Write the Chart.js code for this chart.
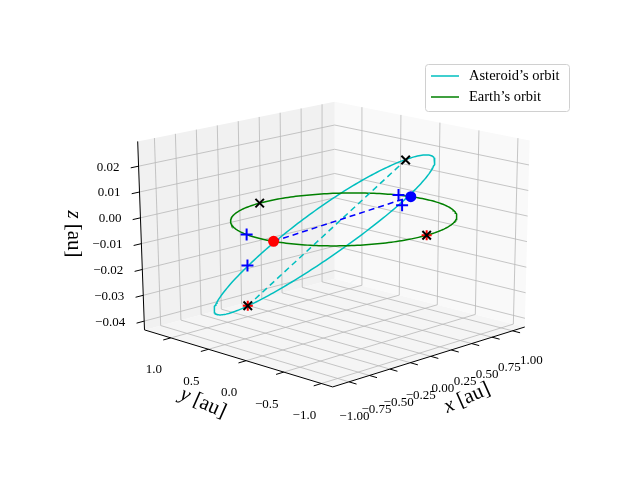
<!DOCTYPE html>
<html>
<head>
<meta charset="utf-8">
<script src="https://cdn.jsdelivr.net/npm/chart.js@4.4.1/dist/chart.umd.min.js"></script>
<style>
  html, body { margin: 0; padding: 0; background: #fff; }
  #wrap { width: 640px; height: 480px; position: relative; }
</style>
</head>
<body>
<div id="wrap"><canvas id="chart"></canvas></div>
<script>
// ---------------------------
// Data (au)
// ---------------------------
const xLim = [-1.2, 1.15];
const yLim = [-1.15, 1.35];
const zLim = [-0.0434, 0.0296];
const xTicks = [-1.0, -0.75, -0.5, -0.25, 0.0, 0.25, 0.5, 0.75, 1.0];
const xTickLabels = ["\u22121.00", "\u22120.75", "\u22120.50", "\u22120.25", "0.00", "0.25", "0.50", "0.75", "1.00"];
const yTicks = [1.0, 0.5, 0.0, -0.5, -1.0];
const yTickLabels = ["1.0", "0.5", "0.0", "\u22120.5", "\u22121.0"];
const zTicks = [-0.04, -0.03, -0.02, -0.01, 0.0, 0.01, 0.02];
const zTickLabels = ["\u22120.04", "\u22120.03", "\u22120.02", "\u22120.01", "0.00", "0.01", "0.02"];

// Earth's orbit: circle of radius 1 au in the ecliptic
const earthRadius = 1.0;
// Asteroid's orbit: centre + two conjugate semi-axis vectors
const asteroidCenter = [-0.122, 0.134, -0.0061];
const asteroidAxisA = [0.810, -0.559, 0.0276];
const asteroidAxisB = [0.648, 0.517, -0.0158];

const apsePoints = [[-0.358, 0.881, -0.0372], [0.176, -0.608, 0.0252]];
const nodePoints = [[-0.988, -0.153, 0], [0.983, 0.184, 0]];
const earthMarks = [[-0.087, 0.996, 0], [0.075, -0.997, 0]];
const redCrosses = [[0.075, -0.997, 0], [-0.358, 0.881, -0.0372]];
const bluePluses = [[-0.978, 0.208, 0], [-1.138, 0.030, -0.0091], [0.951, 0.309, 0], [0.940, 0.250, -0.0036]];

// ---------------------------
// View box (pixel corners of the 3D box)
// ---------------------------
const B = [[[333, 392], [140, 333]], [[530, 330], [335, 280]]]; // bottom [u][v]
const T = [[[333, 178], [133, 138]], [[535, 137], [335, 97]]];  // top [u][v]

function bil(C, u, v) {
    return [0, 1].map(k =>
        C[0][0][k] * (1 - u) * (1 - v) + C[1][0][k] * u * (1 - v) +
        C[0][1][k] * (1 - u) * v + C[1][1][k] * u * v);
}
function proj(p) {
    const u = (p[0] - xLim[0]) / (xLim[1] - xLim[0]);
    const v = (p[1] - yLim[0]) / (yLim[1] - yLim[0]);
    const w = (p[2] - zLim[0]) / (zLim[1] - zLim[0]);
    const b = bil(B, u, v), t = bil(T, u, v);
    return { x: b[0] + (t[0] - b[0]) * w, y: b[1] + (t[1] - b[1]) * w };
}
const GAP = { x: NaN, y: NaN };
function segs(list) {
    const out = [];
    list.forEach(([a, b]) => { out.push(proj(a), proj(b), GAP); });
    return out;
}

// grid lines
const gridSegs = [];
xTicks.forEach(t => {
    gridSegs.push([[t, yLim[0], zLim[0]], [t, yLim[1], zLim[0]]]);
    gridSegs.push([[t, yLim[1], zLim[0]], [t, yLim[1], zLim[1]]]);
});
yTicks.forEach(t => {
    gridSegs.push([[xLim[0], t, zLim[0]], [xLim[1], t, zLim[0]]]);
    gridSegs.push([[xLim[1], t, zLim[0]], [xLim[1], t, zLim[1]]]);
});
zTicks.forEach(t => {
    gridSegs.push([[xLim[1], yLim[0], t], [xLim[1], yLim[1], t]]);
    gridSegs.push([[xLim[0], yLim[1], t], [xLim[1], yLim[1], t]]);
});

// axis lines + tick marks
const axisSegs = [
    [[xLim[0], yLim[0], zLim[0]], [xLim[1], yLim[0], zLim[0]]],
    [[xLim[0], yLim[0], zLim[0]], [xLim[0], yLim[1], zLim[0]]],
    [[xLim[0], yLim[1], zLim[0]], [xLim[0], yLim[1], zLim[1]]]
];
const dy = yLim[1] - yLim[0], dx = xLim[1] - xLim[0];
xTicks.forEach(t => axisSegs.push([[t, yLim[0], zLim[0]], [t, yLim[0] - 0.04 * dy, zLim[0]]]));
yTicks.forEach(t => axisSegs.push([[xLim[0], t, zLim[0]], [xLim[0] - 0.04 * dx, t, zLim[0]]]));
zTicks.forEach(t => axisSegs.push([[xLim[0], yLim[1], t], [xLim[0] - 0.04 * dx, yLim[1], t]]));

// orbits
const N = 240;
const earthOrbit = [], asteroidOrbit = [];
for (let i = 0; i <= N; i++) {
    const a = 2 * Math.PI * i / N;
    earthOrbit.push(proj([earthRadius * Math.cos(a), earthRadius * Math.sin(a), 0]));
    asteroidOrbit.push(proj([0, 1, 2].map(k =>
        asteroidCenter[k] + asteroidAxisA[k] * Math.cos(a) + asteroidAxisB[k] * Math.sin(a))));
}

// ---------------------------
// Panes, tick labels, titles, legend
// ---------------------------
const SERIF = "'Liberation Serif', serif";
const boxPlugin = {
    id: "box3d",
    beforeDatasetsDraw(chart) {
        const { ctx, scales: { x, y } } = chart;
        const poly = (pts, color) => {
            ctx.beginPath();
            pts.forEach((p, i) => {
                const q = proj(p);
                const px = x.getPixelForValue(q.x), py = y.getPixelForValue(q.y);
                i ? ctx.lineTo(px, py) : ctx.moveTo(px, py);
            });
            ctx.closePath();
            ctx.fillStyle = color;
            ctx.fill();
        };
        ctx.save();
        poly([[xLim[0], yLim[0], zLim[0]], [xLim[1], yLim[0], zLim[0]], [xLim[1], yLim[1], zLim[0]], [xLim[0], yLim[1], zLim[0]]], "#f5f5f5");
        poly([[xLim[1], yLim[0], zLim[0]], [xLim[1], yLim[1], zLim[0]], [xLim[1], yLim[1], zLim[1]], [xLim[1], yLim[0], zLim[1]]], "#f9f9f9");
        poly([[xLim[0], yLim[1], zLim[0]], [xLim[1], yLim[1], zLim[0]], [xLim[1], yLim[1], zLim[1]], [xLim[0], yLim[1], zLim[1]]], "#f1f1f1");
        ctx.restore();
    },
    afterDatasetsDraw(chart) {
        const { ctx, scales: { x, y } } = chart;
        const px = p => { const q = proj(p); return [x.getPixelForValue(q.x), y.getPixelForValue(q.y)]; };
        ctx.save();
        ctx.fillStyle = "#000";
        ctx.font = "13px " + SERIF;
        ctx.textBaseline = "middle";
        ctx.textAlign = "center";
        xTicks.forEach((t, i) => {
            const f = (t - xLim[0]) / dx;
            const [a, b] = px([t, yLim[0], zLim[0]]);
            ctx.fillText(xTickLabels[i], a + 4 + 16 * f, b + 35 - 6 * f);
        });
        yTicks.forEach((t, i) => {
            const [a, b] = px([xLim[0], t, zLim[0]]);
            ctx.fillText(yTickLabels[i], a - 17, b + 32);
        });
        ctx.textAlign = "right";
        zTicks.forEach((t, i) => {
            const [a, b] = px([xLim[0], yLim[1], t]);
            ctx.fillText(zTickLabels[i], a - 19, b + 1);
        });
        // axis titles
        const title = (txt, cx, cy, rot) => {
            ctx.save();
            ctx.translate(cx, cy);
            ctx.rotate(rot * Math.PI / 180);
            ctx.font = "italic 21px " + SERIF;
            const w1 = ctx.measureText(txt[0] + " ").width;
            ctx.font = "21px " + SERIF;
            const w2 = ctx.measureText(txt[1]).width;
            const x0 = -(w1 + w2) / 2;
            ctx.textAlign = "left";
            ctx.font = "italic 21px " + SERIF;
            ctx.fillText(txt[0], x0, 0);
            ctx.font = "21px " + SERIF;
            ctx.fillText(txt[1], x0 + w1, 0);
            ctx.restore();
        };
        title(["x", "[au]"], 467, 398, -24);
        title(["y", "[au]"], 203, 403, 24);
        title(["z", "[au]"], 74, 234, 90);
        // legend
        ctx.fillStyle = "rgba(255,255,255,0.85)";
        ctx.strokeStyle = "#d0d0d0";
        ctx.lineWidth = 1;
        ctx.beginPath();
        ctx.roundRect(425.5, 64.5, 144, 47, 3);
        ctx.fill();
        ctx.stroke();
        const items = chart.data.datasets.filter(d => d.legend);
        ctx.font = "14.5px " + SERIF;
        ctx.textAlign = "left";
        items.forEach((d, i) => {
            const yy = 76 + i * 21;
            ctx.strokeStyle = d.borderColor;
            ctx.lineWidth = 1.5;
            ctx.beginPath();
            ctx.moveTo(431, yy);
            ctx.lineTo(459, yy);
            ctx.stroke();
            ctx.fillStyle = "#000";
            ctx.fillText(d.label, 469, yy);
        });
        ctx.restore();
    }
};

// ---------------------------
// Chart
// ---------------------------
const lineSet = (label, data, color, width, order, extra) => Object.assign({
    label, data, showLine: true, borderColor: color, borderWidth: width,
    pointRadius: 0, fill: false, order, spanGaps: false
}, extra || {});
const markSet = (label, pts, style, color, radius, order) => ({
    label, data: pts.map(proj), showLine: false, pointStyle: style,
    pointRadius: radius, borderColor: color, backgroundColor: color, borderWidth: 2, order
});

new Chart(document.getElementById("chart"), {
    type: "scatter",
    data: {
        datasets: [
            lineSet("Asteroid\u2019s orbit", asteroidOrbit, "#00bfbf", 1.5, 5, { legend: true }),
            lineSet("Earth\u2019s orbit", earthOrbit, "#008000", 1.5, 4, { legend: true }),
            markSet("earth marks", earthMarks, "crossRot", "#000", 6, 1),
            markSet("apse marks", apsePoints, "crossRot", "#000", 6, 1),
            markSet("red marks", redCrosses, "cross", "#ff0000", 5, 2),
            markSet("node +", bluePluses, "cross", "#0000ff", 6, 2),
            markSet("red node", [nodePoints[0]], "circle", "#ff0000", 4.5, 2),
            markSet("blue node", [nodePoints[1]], "circle", "#0000ff", 4.5, 2),
            lineSet("nodes", segs([nodePoints]), "#0000ff", 1.5, 3, { borderDash: [6, 4] }),
            lineSet("apses", segs([apsePoints]), "#00bfbf", 1.5, 3, { borderDash: [6, 4] }),
            lineSet("axes", segs(axisSegs), "#000", 1, 6),
            lineSet("grid", segs(gridSegs), "#b8b8b8", 0.8, 7)
        ]
    },
    options: {
        responsive: true,
        maintainAspectRatio: false,
        animation: false,
        layout: { padding: 0 },
        plugins: { legend: { display: false }, tooltip: { enabled: false } },
        scales: {
            x: { type: "linear", min: 0, max: 640, display: false },
            y: { type: "linear", min: 0, max: 480, reverse: true, display: false }
        }
    },
    plugins: [boxPlugin]
});
</script>
</body>
</html>
